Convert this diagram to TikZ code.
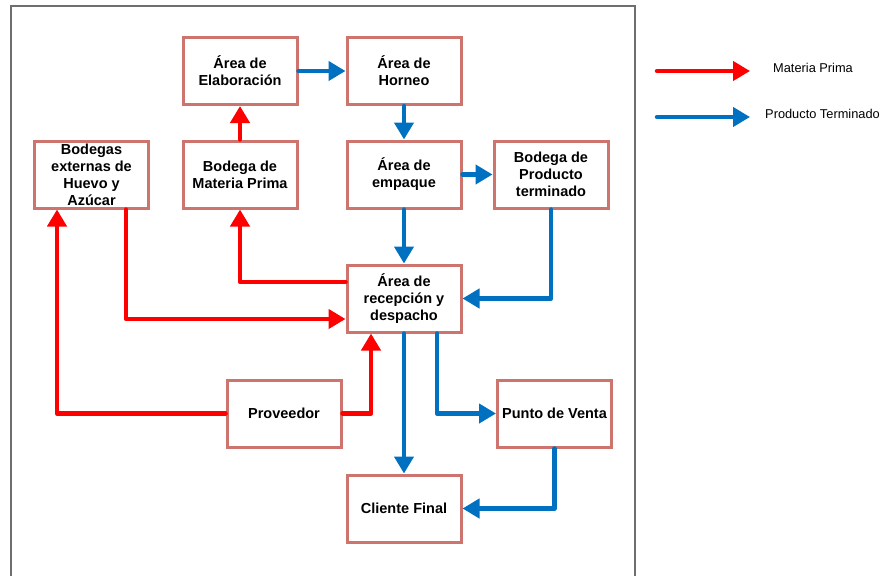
\documentclass[tikz,border=0pt]{standalone}
\usepackage{fontspec}
\setmainfont{Liberation Sans}
\usetikzlibrary{arrows.meta}
\definecolor{boxcol}{RGB}{205,116,111}
\definecolor{mpred}{RGB}{255,0,0}
\definecolor{ptblue}{RGB}{0,112,192}
\definecolor{framecol}{RGB}{110,110,110}
\begin{document}
\begin{tikzpicture}[x=1pt,y=-1pt,
  box/.style={draw=boxcol, line width=3pt, fill=white, minimum width=114pt, minimum height=67pt,
    inner sep=2pt, align=center, font=\fontsize{14.5}{17}\selectfont\bfseries},
  flow/.style={line width=4.5pt, line cap=round, line join=round, -{Triangle[length=17pt,width=19pt]}},
  mp/.style={flow, draw=mpred, mpred},
  pt/.style={flow, draw=ptblue, ptblue},
  legtext/.style={anchor=west, font=\fontsize{12.8}{15}\selectfont, inner sep=0pt}]
\useasboundingbox (0,0) rectangle (885,575);
\draw[framecol, line width=1.5pt] (11,6) rectangle (635,590);

\node[box] (elab) at (240,71) {Área de\\Elaboración};
\node[box] (horn) at (404,71) {Área de\\Horneo};
\node[box] (bext) at (91.5,174.5) {Bodegas\\externas de\\Huevo y\\Azúcar};
\node[box] (bmp) at (240,174.5) {Bodega de\\Materia Prima};
\node[box] (emp) at (404,174.5) {Área de\\empaque};
\node[box] (bpt) at (551,174.5) {Bodega de\\Producto\\terminado};
\node[box] (rec) at (404,298.5) {Área de\\recepción y\\despacho};
\node[box] (prov) at (284,413.5) {Proveedor};
\node[box] (pv) at (554.5,413.5) {Punto de Venta};
\node[box] (cf) at (404,508.5) {Cliente Final};

% Producto terminado (blue)
\draw[pt] (elab.east) -- (horn.west);
\draw[pt] (horn.south) -- (emp.north);
\draw[pt] (emp.east) -- (bpt.west);
\draw[pt] (emp.south) -- (rec.north);
\draw[pt] (bpt.south) |- (rec.east);
\draw[pt] (rec.south) -- (cf.north);
\draw[pt] ([xshift=33pt]rec.south) |- (pv.west);
\draw[pt] (pv.south) |- (cf.east);

% Materia prima (red)
\draw[mp] (bmp.north) -- (elab.south);
\draw[mp] ([yshift=16.5pt]rec.west) -| (bmp.south);
\draw[mp] ([xshift=34.5pt]bext.south) |- ([yshift=-20.5pt]rec.west);
\draw[mp] (prov.west) -| ([xshift=-34.5pt]bext.south);
\draw[mp] (prov.east) -| ([xshift=-33pt]rec.south);

% Legend
\coordinate (l1a) at (657,71);
\coordinate (l1b) at (750,71);
\coordinate (l2a) at (657,117);
\coordinate (l2b) at (750,117);
\draw[mp] (l1a) -- (l1b);
\draw[pt] (l2a) -- (l2b);
\node[legtext] (t1) at (773,68) {Materia Prima};
\node[legtext] (t2) at (765,114) {Producto Terminado};
\end{tikzpicture}
\end{document}
